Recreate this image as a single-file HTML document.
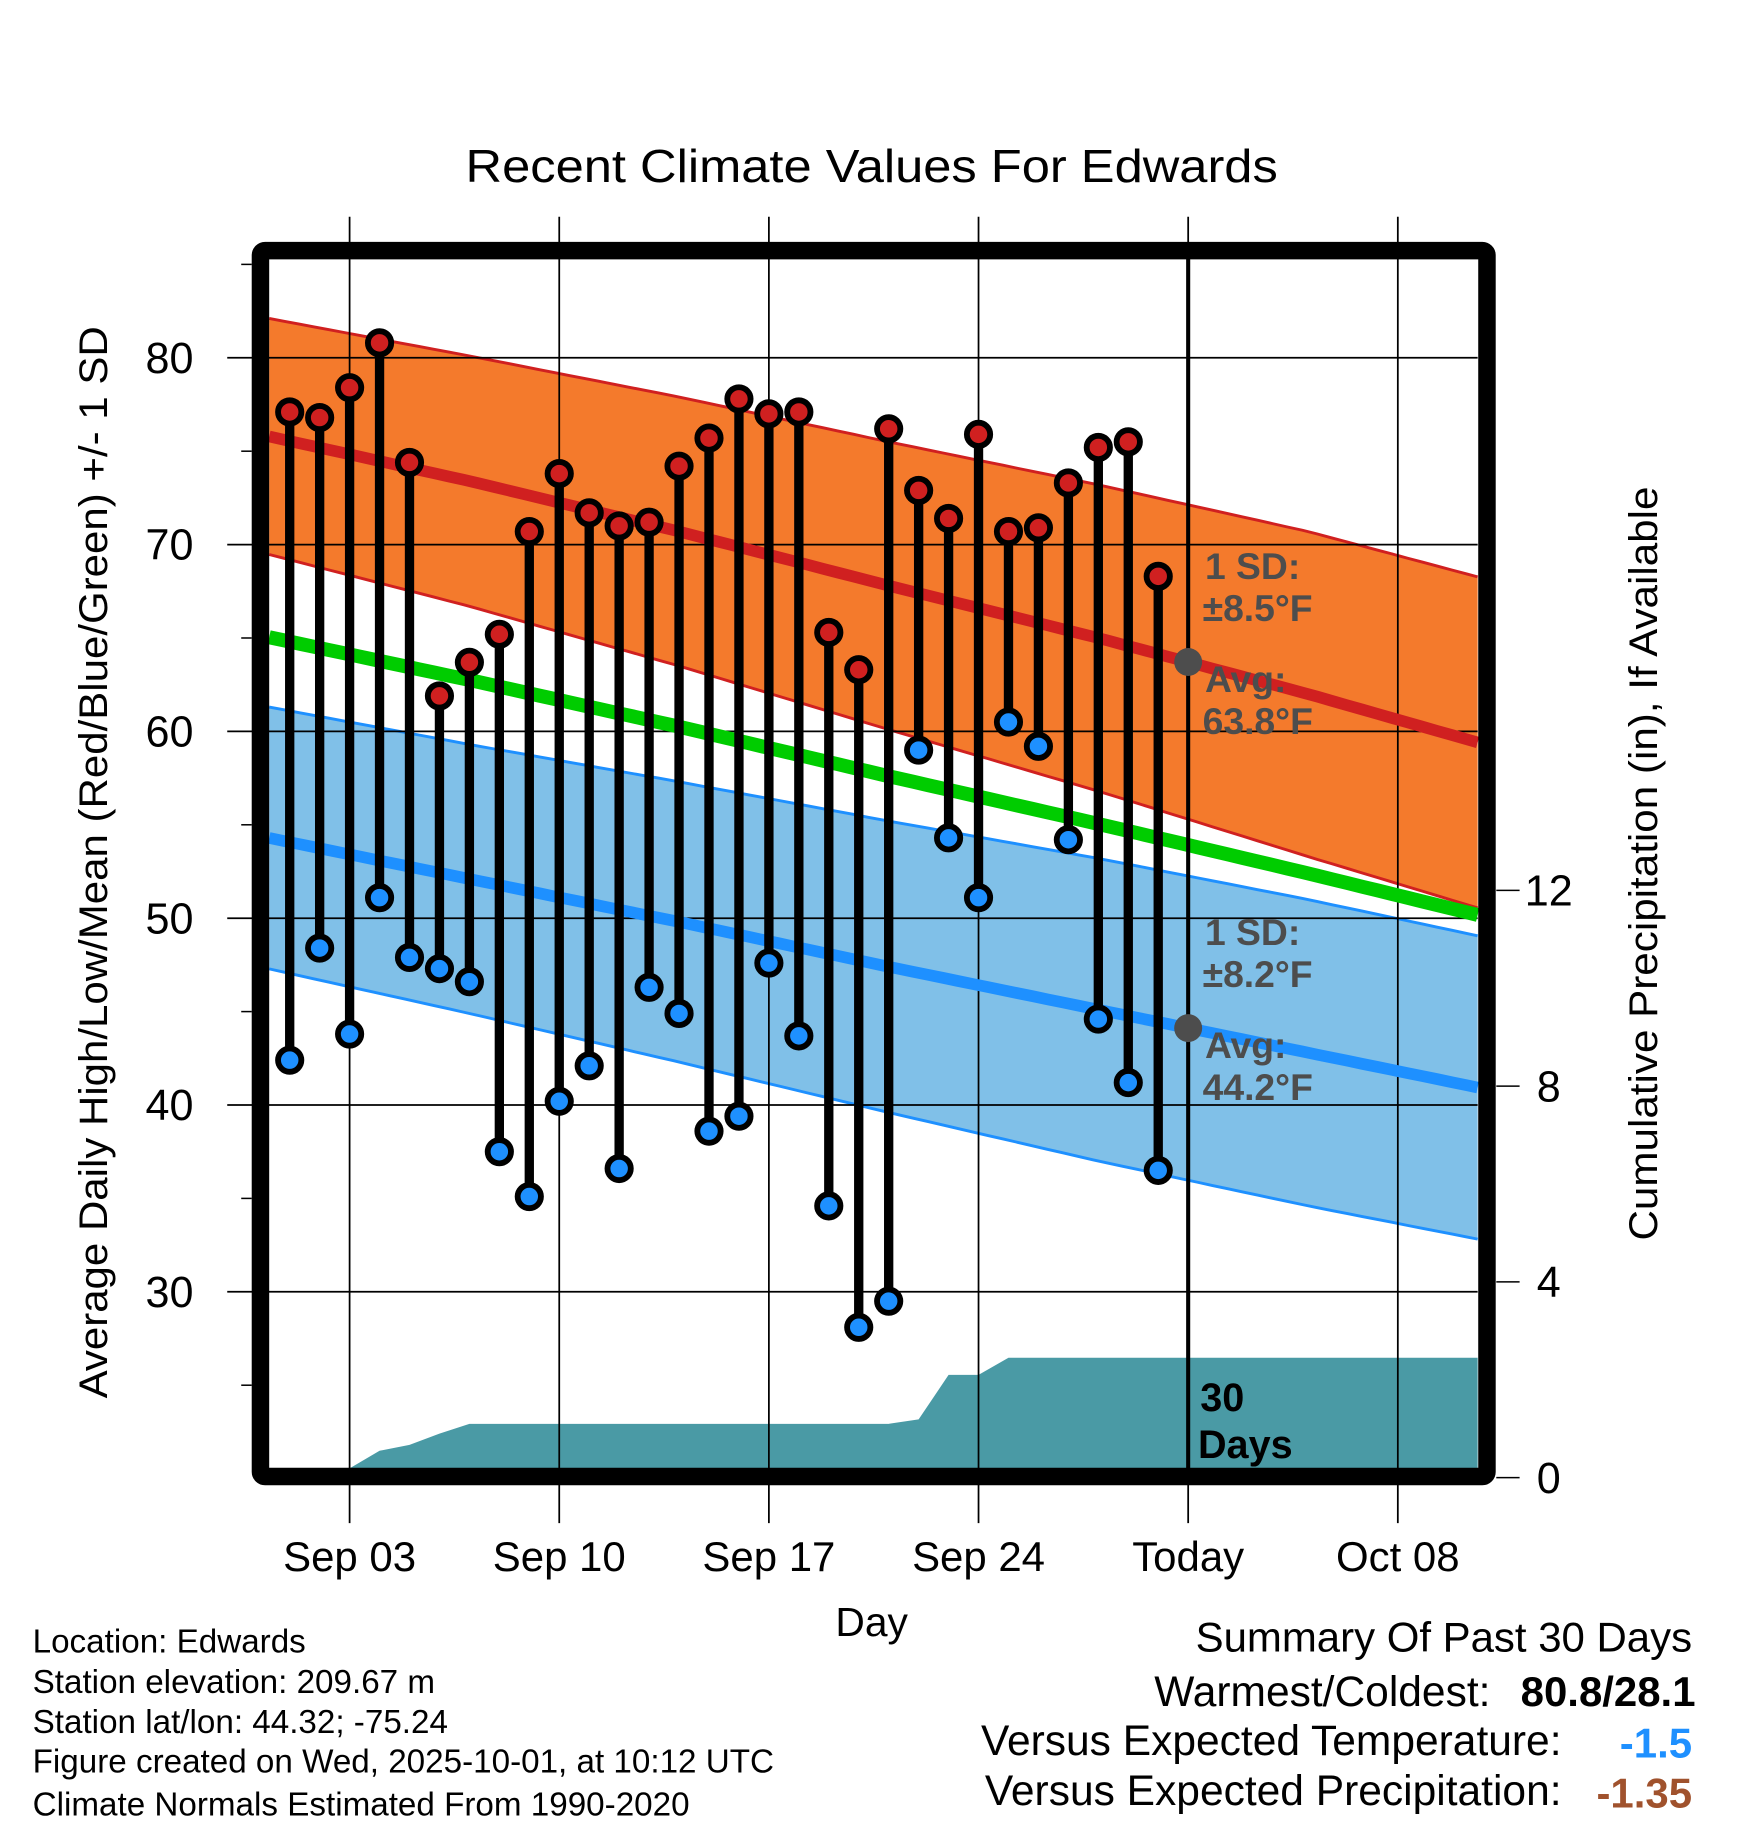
<!DOCTYPE html>
<html><head><meta charset="utf-8"><style>
html,body{margin:0;padding:0;background:#fff;}
svg{display:block;font-family:"Liberation Sans",Arial,sans-serif;}
</style></head><body>
<svg id="chart" width="1748" height="1828" viewBox="0 0 1500 1568.6" xmlns="http://www.w3.org/2000/svg">
<g id="bands"></g>
<g id="precip"></g>
<g id="grid"></g>
<g id="means"></g>
<g id="stems"></g>
<g id="frame"></g>
<g id="labels"></g>
</svg>
<script>
// ---- data ----
const dayLabels = ["Sep 01","Sep 02","Sep 03","Sep 04","Sep 05","Sep 06","Sep 07","Sep 08","Sep 09","Sep 10","Sep 11","Sep 12","Sep 13","Sep 14","Sep 15","Sep 16","Sep 17","Sep 18","Sep 19","Sep 20","Sep 21","Sep 22","Sep 23","Sep 24","Sep 25","Sep 26","Sep 27","Sep 28","Sep 29","Sep 30"];
const dailyHighs = [77.1,76.8,78.4,80.8,74.4,61.9,63.7,65.2,70.7,73.8,71.7,71.0,71.2,74.2,75.7,77.8,77.0,77.1,65.3,63.3,76.2,72.9,71.4,75.9,70.7,70.9,73.3,75.2,75.5,68.3];
const dailyLows = [42.4,48.4,43.8,51.1,47.9,47.3,46.6,37.5,35.1,40.2,42.1,36.6,46.3,44.9,38.6,39.4,47.6,43.7,34.6,28.1,29.5,59.0,54.3,51.1,60.5,59.2,54.2,44.6,41.2,36.5];
const cumPrecip = [0,0,0.05,0.55,0.67,0.9,1.1,1.1,1.1,1.1,1.1,1.1,1.1,1.1,1.1,1.1,1.1,1.1,1.1,1.1,1.1,1.19,2.1,2.1,2.45,2.45,2.45,2.45,2.45,2.45];
const normalDays = [-1,6,13,20,27,34,41];
const highMean = [75.9,73.4,70.7,67.8,65.0,62.0,58.8];
const highSd = [6.3,6.7,7.2,7.7,8.2,8.7,8.9];
const lowMean = [54.4,52.1,49.8,47.4,45.1,42.8,40.5];
const lowSd = [7.0,7.2,7.5,7.8,8.1,8.2,8.1];
const yTicks = [30,40,50,60,70,80];
const yMinor = [25,35,45,55,65,75,85];
const precipTicks = [0,4,8,12];
const xTickDays = [2,9,16,23,30,37];
const xTickLabels = ["Sep 03","Sep 10","Sep 17","Sep 24","Today","Oct 08"];
const todayIndex = 30;

// ---- axes ----
const L=231,R=1268,T=222,B=1260;
const x = d => 248.6 + d*25.7;
const y = v => 307 + (80-v)*16.03;
const yp = p => 1268 - p*42;
const dL=(L-248.6)/25.7, dR=(R-248.6)/25.7;
const NS="http://www.w3.org/2000/svg";
function mk(tag, attrs, parent, text){const e=document.createElementNS(NS,tag);for(const k in attrs)e.setAttribute(k,attrs[k]);if(text!==undefined)e.textContent=text;parent.appendChild(e);return e;}
function interp(arr,d){for(let i=0;i<normalDays.length-1;i++){if(d<=normalDays[i+1]){const t=(d-normalDays[i])/(normalDays[i+1]-normalDays[i]);return arr[i]+t*(arr[i+1]-arr[i]);}}return arr[arr.length-1];}
const samp=[];for(let d=dL;d<dR;d+=0.5)samp.push(d);samp.push(dR);
const hi=d=>interp(highMean,d), hs=d=>interp(highSd,d), lo=d=>interp(lowMean,d), ls=d=>interp(lowSd,d);
const pts=f=>samp.map(d=>x(d).toFixed(1)+","+y(f(d)).toFixed(1));

const bands=document.getElementById('bands');
let e;
e=mk('polygon',{points:pts(d=>hi(d)+hs(d)).concat(pts(d=>hi(d)-hs(d)).reverse()).join(' '),fill:'#f47a2c'},bands);

e=mk('polygon',{points:pts(d=>lo(d)+ls(d)).concat(pts(d=>lo(d)-ls(d)).reverse()).join(' '),fill:'#80c0e8'},bands);

[[d=>hi(d)+hs(d),'#d02020'],[d=>hi(d)-hs(d),'#d02020'],[d=>lo(d)+ls(d),'#1e90ff'],[d=>lo(d)-ls(d),'#1e90ff']].forEach(([f,c])=>{
 e=mk('polyline',{points:pts(f).join(' '),fill:'none',stroke:c,'stroke-width':2.5},bands);
 
});

// precipitation
const pg=document.getElementById('precip');
let pp=[x(dL)+","+B];
cumPrecip.forEach((p,i)=>pp.push(x(i)+","+Math.min(B,yp(p))));
pp.push(x(dR)+","+Math.min(B,yp(cumPrecip[cumPrecip.length-1])));pp.push(x(dR)+","+B);
e=mk('polygon',{points:pp.join(' '),fill:'#4a9aa5'},pg);


// grid
const g=document.getElementById('grid');
yTicks.forEach(v=>{e=mk('line',{x1:195,x2:R,y1:y(v),y2:y(v),stroke:'#000','stroke-width':1.5},g);});
yMinor.forEach(v=>{e=mk('line',{x1:207,x2:216,y1:y(v),y2:y(v),stroke:'#000','stroke-width':1.3},g);});
xTickDays.forEach(d=>{e=mk('line',{x1:x(d),x2:x(d),y1:186,y2:1307,stroke:'#000','stroke-width':1.5},g);});
precipTicks.forEach(p=>{e=mk('line',{x1:1284,x2:1304,y1:yp(p),y2:yp(p),stroke:'#000','stroke-width':1.3},g);});

// means
const m=document.getElementById('means');
e=mk('polyline',{points:pts(d=>(hi(d)+lo(d))/2).join(' '),fill:'none',stroke:'#00cc00','stroke-width':12},m);

e=mk('polyline',{points:pts(hi).join(' '),fill:'none',stroke:'#d02020','stroke-width':10},m);

e=mk('polyline',{points:pts(lo).join(' '),fill:'none',stroke:'#1e90ff','stroke-width':10},m);

e=mk('line',{x1:x(todayIndex),x2:x(todayIndex),y1:T,y2:B,stroke:'#000','stroke-width':3.5},m);

e=mk('circle',{cx:x(todayIndex),cy:y(hi(todayIndex)),r:12,fill:'#4d4d4d'},m);

e=mk('circle',{cx:x(todayIndex),cy:y(lo(todayIndex)),r:12,fill:'#4d4d4d'},m);


// stems
const s=document.getElementById('stems');
dailyHighs.forEach((h,i)=>{
 e=mk('line',{x1:x(i),x2:x(i),y1:y(h),y2:y(dailyLows[i]),stroke:'#000','stroke-width':8},s);
 
});
dailyHighs.forEach((h,i)=>{
 e=mk('circle',{cx:x(i),cy:y(h),r:10,fill:'#d02020',stroke:'#000','stroke-width':5},s);
 
 e=mk('circle',{cx:x(i),cy:y(dailyLows[i]),r:10,fill:'#1e90ff',stroke:'#000','stroke-width':5},s);
 
});

// frame
const f=document.getElementById('frame');
e=mk('rect',{x:223.5,y:215,width:1052.5,height:1052,fill:'none',stroke:'#000','stroke-width':15,rx:4},f);


// labels
const lb=document.getElementById('labels');
function txt(name,xx,yy,str,attrs){const a=Object.assign({x:xx,y:yy},attrs||{});const t=mk('text',a,lb,str);return t;}
txt('chart-title',748,156,'Recent Climate Values For Edwards',{'font-size':40,'text-anchor':'middle',textLength:697,lengthAdjust:'spacingAndGlyphs'});
yTicks.forEach(v=>txt('y-tick-label',166,y(v)+13,String(v),{'font-size':37,'text-anchor':'end'}));
precipTicks.forEach(p=>txt('precip-tick-label',1329,yp(p)+13,String(p),{'font-size':37,'text-anchor':'middle'}));
xTickDays.forEach((d,i)=>txt('x-tick-label',x(d),1348,xTickLabels[i],{'font-size':36,'text-anchor':'middle'}));
txt('x-axis-title',748,1404,'Day',{'font-size':35,'text-anchor':'middle'});
txt('y-axis-title',0,0,'Average Daily High/Low/Mean (Red/Blue/Green) +/- 1 SD',{'font-size':34,'text-anchor':'middle',textLength:920,lengthAdjust:'spacingAndGlyphs',transform:'translate(92,740) rotate(-90)'});
txt('precip-axis-title',0,0,'Cumulative Precipitation (in), If Available',{'font-size':34,'text-anchor':'middle',textLength:647,lengthAdjust:'spacingAndGlyphs',transform:'translate(1422,741) rotate(-90)'});
const gs={'font-size':32,'font-weight':'bold',fill:'#4d4d4d'};
txt('high-sd-label',1034,497,'1 SD:',gs);
txt('high-sd-value',1032,533,'±8.5°F',gs);
txt('high-avg-label',1034,594,'Avg:',gs);
txt('high-avg-value',1032,630,'63.8°F',gs);
txt('low-sd-label',1034,811,'1 SD:',gs);
txt('low-sd-value',1032,847,'±8.2°F',gs);
txt('low-avg-label',1034,908,'Avg:',gs);
txt('low-avg-value',1032,944,'44.2°F',gs);
txt('days-label',1030,1211,'30',{'font-size':34,'font-weight':'bold'});
txt('days-label',1028,1251,'Days',{'font-size':34,'font-weight':'bold'});
const info=['Location: Edwards','Station elevation: 209.67 m','Station lat/lon: 44.32; -75.24','Figure created on Wed, 2025-10-01, at 10:12 UTC','Climate Normals Estimated From 1990-2020'];
const infoY=[1418,1453,1487,1521,1558];
info.forEach((t,i)=>txt('station-info-line',28,infoY[i],t,{'font-size':28.5}));
txt('summary-title',1452,1417,'Summary Of Past 30 Days',{'font-size':36,'text-anchor':'end'});
txt('warmest-coldest-label',1279,1464,'Warmest/Coldest:',{'font-size':36.5,'text-anchor':'end'});
txt('warmest-coldest-value',1455,1464,'80.8/28.1',{'font-size':36,'text-anchor':'end','font-weight':'bold'});
txt('temp-departure-label',1340,1506,'Versus Expected Temperature:',{'font-size':36.5,'text-anchor':'end'});
txt('temp-departure-value',1452,1508,'-1.5',{'font-size':36,'text-anchor':'end','font-weight':'bold',fill:'#1e90ff'});
txt('precip-departure-label',1340,1549,'Versus Expected Precipitation:',{'font-size':36.5,'text-anchor':'end'});
txt('precip-departure-value',1452,1551,'-1.35',{'font-size':36,'text-anchor':'end','font-weight':'bold',fill:'#a0522d'});
</script>
</body></html>
